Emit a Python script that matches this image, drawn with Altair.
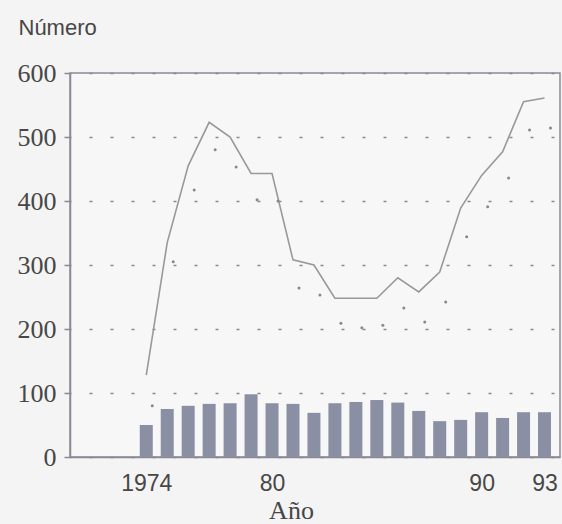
import altair as alt
import pandas as pd

# Años de la serie
years = list(range(1974, 1994))
# Barras (número anual)
bar_values = [50, 75, 80, 83, 84, 98, 84, 83, 69, 84, 86, 89, 85, 72, 56, 58, 70, 61, 70, 70]
# Serie continua
line_values = [128, 335, 455, 523, 500, 443, 443, 308, 300, 248, 248, 248, 280, 258, 289,
               389, 440, 477, 555, 561]
# Serie punteada
dot_values = [80, 305, 417, 480, 453, 402, 400, 264, 253, 209, 202, 206, 233, 211, 242,
              344, 391, 436, 511, 514]
# Marcas del eje x
x_ticks = [1974, 1980, 1990, 1993]
y_ticks = [0, 100, 200, 300, 400, 500, 600]

df = pd.DataFrame({
    "year": years,
    "bar": bar_values,
    "line": line_values,
    "dots": dot_values,
})

text_color = "#474747"
axis_color = "#8a8a96"

x_scale = alt.Scale(domain=[1970.6, 1993.5], nice=False, zero=False)
y_scale = alt.Scale(domain=[0, 600], nice=False)

x_axis = alt.Axis(
    title="Año",
    values=x_ticks,
    labelExpr="datum.value == 1974 ? '1974' : substring(toString(datum.value), 2)",
    ticks=False,
    grid=False,
    domainColor=axis_color,
    domainWidth=1.5,
    labelFont="Liberation Sans",
    labelFontSize=23,
    labelColor=text_color,
    labelPadding=15,
    titleFont="Liberation Serif",
    titleFontSize=26,
    titleFontWeight="normal",
    titleColor=text_color,
    titlePadding=2,
    titleX=221,
    titleAlign="center",
)

y_axis = alt.Axis(
    title="Número",
    values=y_ticks,
    grid=True,
    gridDash=[3, 18],
    gridDashOffset=2,
    gridColor="#8a8a8a",
    gridWidth=1.6,
    tickSize=6,
    tickColor=axis_color,
    tickWidth=1.5,
    domainColor=axis_color,
    domainWidth=1.5,
    labelFont="Liberation Serif",
    labelFontSize=26,
    labelColor=text_color,
    labelPadding=8,
    titleFont="Liberation Sans",
    titleFontSize=22,
    titleFontWeight="normal",
    titleColor=text_color,
    titleAngle=0,
    titleAlign="left",
    titleBaseline="middle",
    titleX=-52,
    titleY=-46,
)

base = alt.Chart(df)

bars = base.mark_bar(color="#8a8fa3", size=13).encode(
    x=alt.X("year:Q", scale=x_scale, axis=x_axis),
    y=alt.Y("bar:Q", scale=y_scale, axis=y_axis),
)

line = base.mark_line(color="#999999", strokeWidth=1.6).encode(
    x=alt.X("year:Q", scale=x_scale),
    y=alt.Y("line:Q", scale=y_scale),
)

dots = base.mark_circle(color="#888888", size=9, opacity=1, xOffset=6).encode(
    x=alt.X("year:Q", scale=x_scale),
    y=alt.Y("dots:Q", scale=y_scale),
)

chart = alt.layer(bars, line, dots).properties(
    width=490,
    height=384,
    background="#f4f4f4",
    autosize=alt.AutoSizeParams(type="none"),
    padding={"left": 70, "top": 73, "right": 2, "bottom": 67},
).configure_view(
    stroke=axis_color,
    strokeWidth=1.5,
    fill="#f7f7f7",
)

chart.save("out.html", embed_options={"renderer": "svg", "actions": False})
